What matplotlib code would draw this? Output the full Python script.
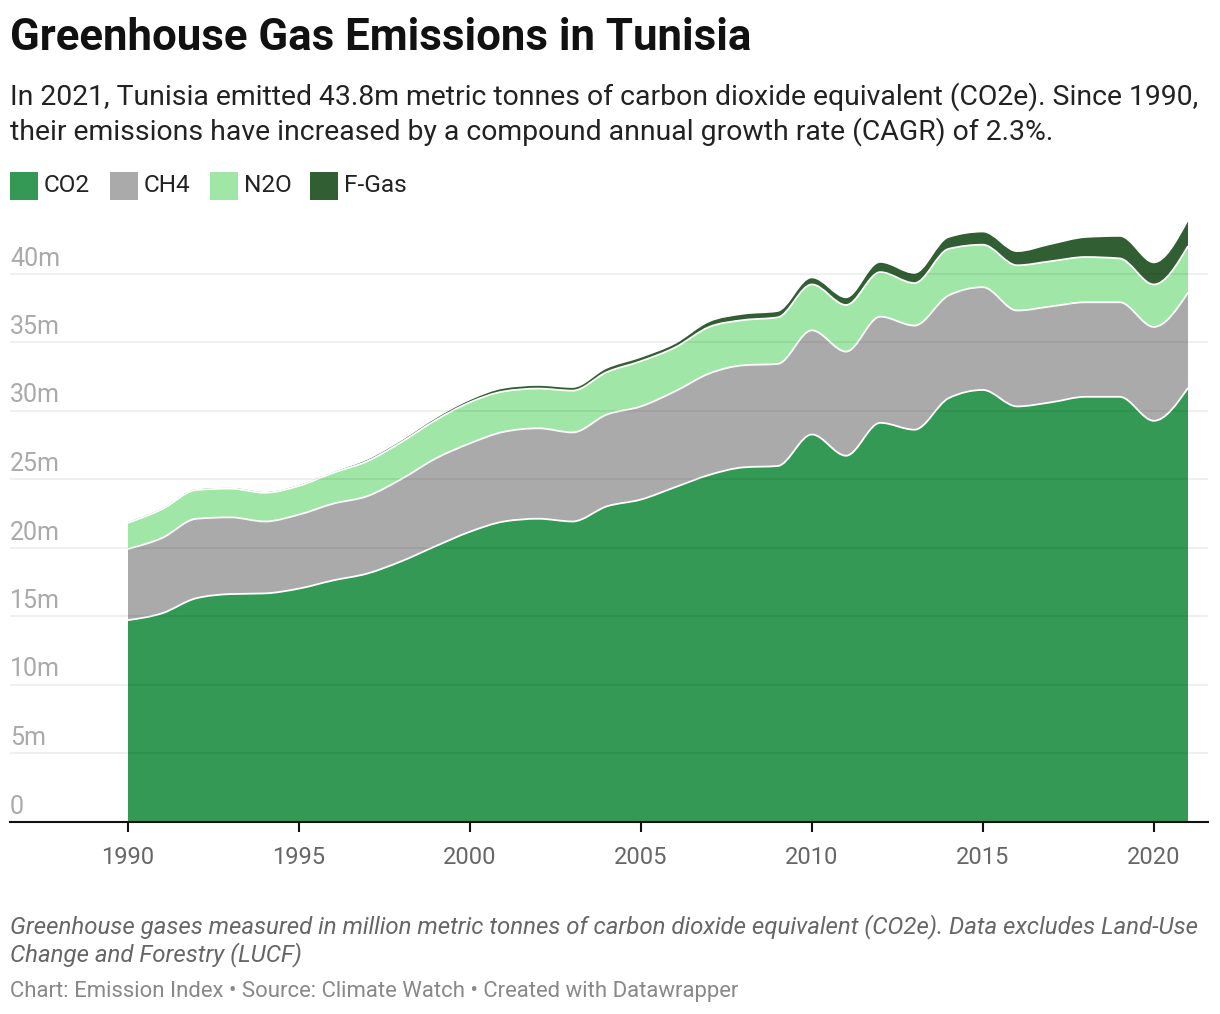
import matplotlib
matplotlib.use("Agg")
import matplotlib.pyplot as plt
import numpy as np
from matplotlib.path import Path
from matplotlib.patches import PathPatch, Rectangle

plt.rcParams['font.family'] = ['Roboto', 'DejaVu Sans']

# data (million t CO2e)
years = list(range(1990, 2022))
co2 = [14.7, 15.2, 16.3, 16.6, 16.65, 17.0, 17.6, 18.1, 19.0, 20.1,
       21.15, 21.9, 22.1, 21.9, 23.0, 23.5, 24.4, 25.3, 25.85, 25.95,
       28.25, 26.7, 29.1, 28.6, 30.9, 31.5, 30.3, 30.6, 31.0, 31.0,
       29.25, 31.65]
ch4 = [5.2, 5.5, 5.8, 5.6, 5.25, 5.4, 5.6, 5.65, 6.0, 6.4,
       6.45, 6.55, 6.6, 6.5, 6.7, 6.8, 7.0, 7.4, 7.45, 7.45,
       7.6, 7.6, 7.75, 7.6, 7.5, 7.5, 7.0, 7.0, 6.9, 6.9,
       6.85, 6.95]
n2o = [1.9, 2.1, 2.1, 2.1, 2.1, 2.1, 2.25, 2.55, 2.7, 2.8,
       3.0, 2.95, 2.9, 3.05, 3.1, 3.3, 3.2, 3.4, 3.3, 3.4,
       3.35, 3.4, 3.25, 3.1, 3.4, 3.1, 3.3, 3.3, 3.3, 3.2,
       3.1, 3.4]
fgas = [0.05, 0.05, 0.05, 0.05, 0.05, 0.05, 0.05, 0.1, 0.1, 0.12,
        0.15, 0.2, 0.2, 0.2, 0.25, 0.25, 0.25, 0.35, 0.4, 0.4,
        0.45, 0.5, 0.68, 0.68, 0.8, 0.9, 0.97, 1.2, 1.4, 1.58,
        1.55, 1.8]

series = ['CO2', 'CH4', 'N2O', 'F-Gas']
colors = ['#339955', '#aaaaaa', '#a0e6a6', '#325e33']
y_ticks = [0, 5, 10, 15, 20, 25, 30, 35, 40]
x_ticks = [1990, 1995, 2000, 2005, 2010, 2015, 2020]


def monotone_segments(x, y):
    # cubic bezier segments like d3.curveMonotoneX
    x = np.asarray(x, float)
    y = np.asarray(y, float)
    n = len(x)
    h = np.diff(x)
    s = np.diff(y) / h
    t = np.zeros(n)
    for i in range(1, n - 1):
        p = (s[i - 1] * h[i] + s[i] * h[i - 1]) / (h[i - 1] + h[i])
        t[i] = (np.sign(s[i - 1]) + np.sign(s[i])) * min(abs(s[i - 1]), abs(s[i]), 0.5 * abs(p))
    t[0] = (3 * s[0] - t[1]) / 2
    t[-1] = (3 * s[-1] - t[-2]) / 2
    segs = []
    for i in range(n - 1):
        dx = h[i] / 3
        segs.append(((x[i], y[i]),
                     (x[i] + dx, y[i] + dx * t[i]),
                     (x[i + 1] - dx, y[i + 1] - dx * t[i + 1]),
                     (x[i + 1], y[i + 1])))
    return segs


def curve_vertices(segs):
    verts = [segs[0][0]]
    codes = [Path.MOVETO]
    for p0, c1, c2, p1 in segs:
        verts += [c1, c2, p1]
        codes += [Path.CURVE4] * 3
    return verts, codes


fig = plt.figure(figsize=(12.2, 10.14), dpi=100)
H = 1014.0
ax = fig.add_axes([10 / 1220, (H - 821.5) / H, 1198 / 1220, (821.5 - 215) / H])

layers = [co2, ch4, n2o, fgas]
bottom = np.zeros(len(years))
tops = []
for vals, col in zip(layers, colors):
    top = bottom + np.asarray(vals)
    up = monotone_segments(years, top)
    verts, codes = curve_vertices(up)
    if bottom.any():
        down = monotone_segments(years, bottom)
        verts.append(down[-1][3])
        codes.append(Path.LINETO)
        for p0, c1, c2, p1 in reversed(down):
            verts += [c2, c1, p0]
            codes += [Path.CURVE4] * 3
    else:
        verts += [(years[-1], 0), (years[0], 0)]
        codes += [Path.LINETO, Path.LINETO]
    verts.append(verts[0])
    codes.append(Path.CLOSEPOLY)
    ax.add_patch(PathPatch(Path(verts, codes), facecolor=col, edgecolor='none', zorder=2))
    tops.append(top)
    bottom = top

# white separators between layers
for top in tops[:-1]:
    verts, codes = curve_vertices(monotone_segments(years, top))
    ax.add_patch(PathPatch(Path(verts, codes), fill=False, edgecolor='white',
                           lw=1.3, zorder=3, capstyle='butt'))

for v in y_ticks[1:]:
    ax.axhline(v, color=(0, 0, 0, 0.08), lw=1.1, zorder=4)
for v in y_ticks:
    lab = '0' if v == 0 else f'{v}m'
    ax.annotate(lab, xy=(0, v), xycoords=('axes fraction', 'data'),
                xytext=(0, 8), textcoords='offset pixels',
                ha='left', va='baseline', fontsize=18, color='#aaaaaa', zorder=5)

ax.set_xlim(1990 - 118 / 34.194, 2021 + 20 / 34.194)
ax.set_ylim(0, (821.5 - 215) / 13.7)
for side in ['top', 'right', 'left']:
    ax.spines[side].set_visible(False)
ax.spines['bottom'].set_linewidth(1.5)
ax.spines['bottom'].set_color('#111111')
ax.spines['bottom'].set_zorder(6)
ax.set_yticks([])
ax.set_xticks(x_ticks)
ax.tick_params(axis='x', length=7, width=1.5, color='#111111', pad=11,
               labelsize=17, labelcolor='#666666')
ax.patch.set_alpha(0)

# title block
fig.text(10 / 1220, 1 - 50 / H, 'Greenhouse Gas Emissions in Tunisia',
         fontsize=31.5, fontweight='bold', color='#111111', va='baseline')
fig.text(10 / 1220, 1 - 105 / H,
         'In 2021, Tunisia emitted 43.8m metric tonnes of carbon dioxide equivalent (CO2e). Since 1990,',
         fontsize=20.4, color='#222222', va='baseline')
fig.text(10 / 1220, 1 - 140 / H,
         'their emissions have increased by a compound annual growth rate (CAGR) of 2.3%.',
         fontsize=20.4, color='#222222', va='baseline')

# legend
leg_x = [10, 110, 210, 310]
for name, col, lx in zip(series, colors, leg_x):
    fig.patches.append(Rectangle((lx / 1220, 1 - 200 / H), 28 / 1220, 28 / H,
                                 transform=fig.transFigure, facecolor=col,
                                 edgecolor='none'))
    fig.text((lx + 34) / 1220, 1 - 192 / H, name, fontsize=17.6, color='#222222',
             va='baseline')

# footer
fig.text(10 / 1220, 1 - 933 / H,
         'Greenhouse gases measured in million metric tonnes of carbon dioxide equivalent (CO2e). Data excludes Land-Use',
         fontsize=17.3, style='italic', color='#666666', va='baseline')
fig.text(10 / 1220, 1 - 961 / H, 'Change and Forestry (LUCF)',
         fontsize=17.3, style='italic', color='#666666', va='baseline')
fig.text(10 / 1220, 1 - 997 / H,
         'Chart: Emission Index \u2022 Source: Climate Watch \u2022 Created with Datawrapper',
         fontsize=15.9, color='#888888', va='baseline')

fig.savefig('out.png', dpi=100)
